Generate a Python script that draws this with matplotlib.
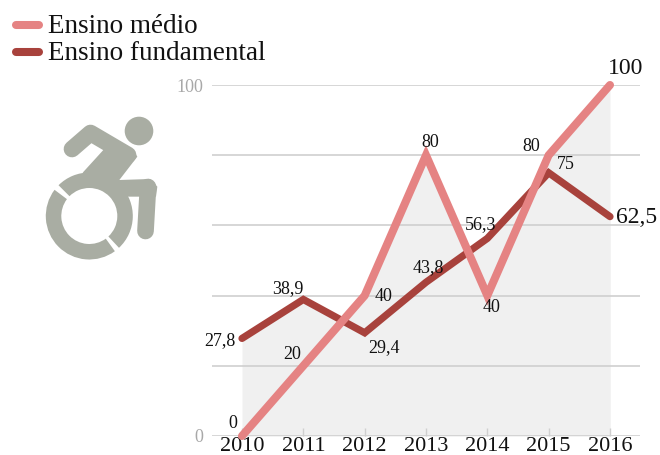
import matplotlib
matplotlib.use("Agg")
import matplotlib.pyplot as plt
from matplotlib.patches import Circle, Wedge, Polygon

years = [2010, 2011, 2012, 2013, 2014, 2015, 2016]
medio = [0, 20, 40, 80, 40, 80, 100]
fundamental = [27.8, 38.9, 29.4, 43.8, 56.3, 75, 62.5]
grid_values = [0, 20, 40, 60, 80, 100]
y_labels = ["0", "", "", "", "", "100"]
legend_names = ["Ensino médio", "Ensino fundamental"]

MEDIO_COLOR = "#E58383"
FUND_COLOR = "#A8423C"
ICON_COLOR = "#A9ADA3"
W, H = 660, 455

# label offsets in pixels from the point
medio_off = [(-9, 13), (-11, 11), (19, -1), (4, 13), (4, -12), (-17, 9), (16, 16)]
fund_off = [(-22, -2), (-16, 11), (19, -15), (2, 15), (-7, 14), (17, 8), (27, -1)]

plt.rcParams["font.family"] = ["Liberation Serif", "DejaVu Serif"]

fig = plt.figure(figsize=(W / 100, H / 100), dpi=100)
ax = fig.add_axes([212 / W, 1 - 436 / H, 428 / W, 351 / H])

px_year = (610 - 242) / 6
ax.set_xlim(2010 - 30 / px_year, 2016 + 30 / px_year)
ax.set_ylim(0, 100)
for s in ax.spines.values():
    s.set_visible(False)
ax.patch.set_alpha(0)

ax.fill_between(years, medio, color="#F0F0F0", lw=0, zorder=1)
ax.fill_between(years, fundamental, color="#F0F0F0", lw=0, zorder=1)

ax.set_yticks(grid_values)
ax.set_yticklabels(y_labels, fontsize=13, color="#A8A8A8")
ax.tick_params(axis="y", length=0, pad=6)
ax.grid(axis="y", color="#CFCFCF", lw=1.2, zorder=2)
ax.set_axisbelow(False)

ax.set_xticks(years)
ax.set_xticklabels(years, fontsize=16, color="#111111")
ax.tick_params(axis="x", direction="in", length=6, width=1, color="#CFCFCF", pad=0.5)

ax.plot(years, fundamental, color=FUND_COLOR, lw=5.2, solid_capstyle="round",
        solid_joinstyle="miter", zorder=3, clip_on=False)
ax.plot(years, medio, color=MEDIO_COLOR, lw=5.8, solid_capstyle="round",
        solid_joinstyle="miter", zorder=4, clip_on=False)


def fmt(v):
    return f"{v:g}".replace(".", ",")


for series, offs in [(medio, medio_off), (fundamental, fund_off)]:
    for i, v in enumerate(series):
        size = 13
        if years[i] == 2016:
            size = 17
        ax.annotate(fmt(v), (years[i], v), xytext=(offs[i][0] * 0.72, offs[i][1] * 0.72),
                    textcoords="offset points", ha="center", va="center",
                    fontsize=size, color="#111111", zorder=6, annotation_clip=False)

# overlay in pixel coords for legend and icon
ov = fig.add_axes([0, 0, 1, 1])
ov.set_xlim(0, W)
ov.set_ylim(H, 0)
ov.axis("off")

for name, col, y in zip(legend_names, [MEDIO_COLOR, FUND_COLOR], [25, 52]):
    ov.plot([16, 39], [y, y], color=col, lw=5.8, solid_capstyle="round")
    ov.text(48, y + 1.5, name, fontsize=19.5, color="#111111", va="center", ha="left")

body = [(248, 518), (310, 450), (370, 440), (400, 450), (412, 470), (358, 540), (450, 537),
        (472, 560), (468, 590), (385, 590), (330, 560)]
ov.add_patch(Circle((139, 131), 14.3, color=ICON_COLOR, lw=0))
ov.add_patch(Wedge((89.3, 216), 43.5, -306, -143, width=15.5, color=ICON_COLOR, lw=0))
ov.add_patch(Wedge((89.3, 216), 43.5, -135, 47, width=15.5, color=ICON_COLOR, lw=0))
ov.add_patch(Polygon([(x / 3, y / 3) for x, y in body], color=ICON_COLOR, lw=0))
ov.plot([72, 90.5, 128], [149, 133, 155], color=ICON_COLOR, lw=12,
        solid_capstyle="round", solid_joinstyle="round")
ov.plot([148, 145.5], [187, 231], color=ICON_COLOR, lw=12, solid_capstyle="round")

fig.savefig("out.png", dpi=100)
